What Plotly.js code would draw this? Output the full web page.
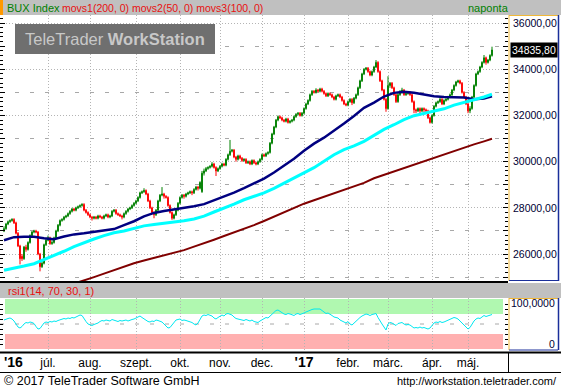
<!DOCTYPE html>
<html><head><meta charset="utf-8">
<script src="https://cdn.plot.ly/plotly-3.0.1.min.js"></script>
<style>html,body{margin:0;padding:0;background:#fff;}#chart{width:561px;height:390px;}</style>
</head><body><div id="chart"></div>
<script>
// ---------- DATA (BUX Index, daily, 2016-06-01 .. 2017-05-19) ----------
const startDate = '2016-06-01';
const holidays = ['2016-10-31','2016-11-01','2016-12-26','2017-03-15','2017-04-14','2017-04-17','2017-05-01'];

const open = [
27000,27100,27300,27400,27450,27500,27350,26900,26350,25900,
25800,26300,26200,26500,26800,26950,27000,26950,26000,25450,
25600,26400,26600,26700,26450,26500,26700,27000,27250,27450,
27500,27600,27650,27750,27850,27950,27900,28000,28050,28100,
28150,27900,27800,27700,27600,27550,27600,27550,27650,27600,
27550,27650,27700,27600,27650,27850,27900,27750,27700,27650,
27600,27750,27850,27950,28000,28100,28200,28300,28450,28650,
28700,28750,28600,28300,28000,27800,27700,27900,28300,28550,
28600,28500,28450,28100,27800,27550,27700,27900,28200,28450,
28550,28500,28600,28650,28700,28650,28800,28900,28850,28700,
29500,29600,29700,29750,29800,29900,29750,29600,29700,29800,
29900,29850,30100,30300,30450,30500,30200,30100,30250,30150,
30050,30100,29950,30000,29900,30050,29950,29900,30000,30100,
30300,30250,30350,30400,30800,31200,31500,31800,31950,31900,
31800,31750,31850,31700,31750,31800,31950,32050,32100,32000,
32100,32300,32500,32650,32900,33050,33000,33100,33050,33150,
33050,32950,32850,32950,32900,32800,32700,32850,32900,32800,
32650,32500,32450,32600,32700,32550,32750,32900,33200,33500,
33800,34000,34050,33900,33750,33900,34100,34300,33900,33500,
33100,32700,32300,33300,33400,33200,32900,32600,32900,33000,
33100,32900,32950,33000,32900,32600,32250,32200,32300,32200,
32300,32250,32200,31900,31700,32000,32400,32550,32600,32700,
32500,32650,32700,32800,32900,33100,33300,33450,33500,33400,
33000,32800,32500,32200,32300,32800,33300,33800,33900,34100,
34300,34500,34300,34400,34600];
const high = [
27200,27350,27450,27500,27550,27550,27400,26950,26400,26000,
26350,26400,26550,26850,27000,27050,27050,27000,26050,25700,
26450,26650,26800,26750,26600,26750,27050,27300,27500,27550,
27650,27700,27800,27900,28000,28000,28050,28100,28150,28200,
28200,27950,27850,27750,27650,27650,27650,27700,27700,27650,
27700,27750,27750,27700,27900,27950,27950,27800,27750,27700,
27800,27900,28000,28050,28150,28250,28350,28500,28700,28750,
28850,28800,28650,28350,28050,27850,27950,28350,28600,28900,
28650,28550,28500,28150,27850,27750,27950,28250,28500,28600,
28600,28650,28700,28750,28750,28850,28950,28950,29150,29600,
29700,29770,29800,29850,29980,29950,29800,29750,29850,29950,
29950,30150,30350,30940,30550,30550,30250,30300,30300,30200,
30150,30150,30050,30050,30100,30100,30000,30050,30150,30350,
30350,30400,30450,30850,31250,31550,31850,32000,32000,31950,
31850,31900,31900,31800,31850,32000,32100,32150,32150,32150,
32350,32550,32700,32950,33100,33100,33180,33150,33200,33200,
33100,33000,33000,33000,32950,32850,32900,32950,32950,32850,
32700,32550,32650,32750,32750,32800,32950,33250,33550,33850,
34050,34100,34100,33950,33950,34150,34400,34350,33950,33550,
33150,32750,33700,33450,33450,33250,32950,33000,33100,33200,
33150,33000,33050,33050,32950,32650,32300,32350,32350,32350,
32350,32300,32250,31950,32050,32450,32600,32650,32800,32750,
32700,32750,32850,32950,33150,33350,33500,33550,33550,33450,
33050,32850,32550,32400,32850,33350,33850,33950,34150,34350,
34620,34550,34450,34650,34980];
const low = [
26950,27050,27250,27350,27400,27300,26850,26300,25550,25700,
25750,26100,26150,26450,26750,26900,26900,25950,25250,25400,
25550,26350,26550,26400,26400,26450,26650,26950,27200,27400,
27450,27550,27600,27700,27800,27850,27850,27950,28000,28050,
27850,27750,27650,27550,27450,27500,27500,27500,27550,27500,
27500,27600,27550,27550,27600,27800,27700,27650,27600,27500,
27550,27700,27800,27900,27950,28050,28150,28250,28400,28600,
28650,28550,28250,27950,27750,27550,27650,27850,28250,28500,
28400,28400,28050,27750,27480,27500,27650,27850,28150,28400,
28400,28450,28550,28600,28550,28600,28750,28750,28800,28650,
29400,29550,29650,29700,29750,29700,29380,29550,29650,29750,
29800,29800,30050,30250,30400,30150,30000,30050,30100,29990,
30000,29900,29900,29850,29850,29900,29840,29850,29950,30050,
30200,30200,30300,30350,30750,31150,31450,31750,31850,31750,
31700,31700,31650,31650,31700,31750,31900,32000,31950,31950,
32050,32250,32450,32600,32850,32950,32950,33000,33000,33000,
32900,32800,32800,32850,32750,32650,32650,32800,32750,32600,
32450,32400,32400,32550,32450,32500,32700,32850,33150,33450,
33750,33950,33850,33700,33700,33850,34050,33850,33450,33050,
32650,32160,32250,33200,33150,32850,32540,32550,32850,32950,
32850,32850,32900,32850,32550,32100,32100,32150,32050,32150,
32150,32150,31850,31650,31650,31950,32350,32500,32550,32450,
32450,32600,32650,32750,32850,33050,33250,33400,33350,32950,
32750,32450,32100,32100,32250,32750,33250,33750,33850,34050,
34250,34200,34250,34350,34550];
const close = [
27100,27300,27400,27450,27500,27350,26900,26350,25800,25800,
26300,26200,26500,26800,26950,27000,26950,26000,25450,25600,
26400,26600,26700,26450,26500,26700,27000,27250,27450,27500,
27600,27650,27750,27850,27950,27900,28000,28050,28100,28150,
27900,27800,27700,27600,27550,27600,27550,27650,27600,27550,
27650,27700,27600,27650,27850,27900,27750,27700,27650,27600,
27750,27850,27950,28000,28100,28200,28300,28450,28650,28700,
28750,28600,28300,28000,27800,27700,27900,28300,28550,28600,
28500,28450,28100,27800,27550,27700,27900,28200,28450,28550,
28500,28600,28650,28700,28650,28800,28900,28850,29100,29500,
29600,29700,29750,29800,29900,29750,29600,29700,29800,29900,
29850,30100,30300,30450,30500,30200,30100,30250,30150,30050,
30100,29950,30000,29900,30050,29950,29900,30000,30100,30300,
30250,30350,30400,30800,31200,31500,31800,31950,31900,31800,
31750,31850,31700,31750,31800,31950,32050,32100,32000,32100,
32300,32500,32650,32900,33050,33000,33100,33050,33150,33050,
32950,32850,32950,32900,32800,32700,32850,32900,32800,32650,
32500,32450,32600,32700,32550,32750,32900,33200,33500,33800,
34000,34050,33900,33750,33900,34100,34300,33900,33500,33100,
32700,32300,33300,33400,33200,32900,32600,32900,33000,33100,
32900,32950,33000,32900,32600,32250,32200,32300,32200,32300,
32250,32200,31900,31700,32000,32400,32550,32600,32700,32500,
32650,32700,32800,32900,33100,33300,33450,33500,33400,33000,
32800,32500,32200,32300,32800,33300,33800,33900,34100,34300,
34500,34300,34400,34600,34835.80];

// Moving averages, sampled every 5th trading day (+ last day)
const maStep = 5;
const movs1 = [null,null,null,null,null,null,null,
24720,24850,25000,25150,25300,25460,25600,25720,25830,25940,
26050,26170,26320,26460,26620,26780,26930,27080,27250,27430,
27620,27810,28010,28180,28330,28480,28630,28770,28920,29080,
29280,29430,29560,29700,29860,30000,30150,30300,30450,30600,
30750,30880,30990];
const movs2 = [26600,26730,26750,26750,26680,26640,26760,26850,26900,26960,
27010,27080,27250,27420,27630,27780,27860,27920,27980,28070,
28160,28320,28470,28660,28850,29050,29270,29530,29830,30130,
30470,30780,31040,31330,31650,31980,32330,32560,32820,32980,
33030,32980,32900,32830,32800,32800,32780,32700,32740,32830];
const movs3 = [25300,25380,25480,25580,25750,25930,26120,26320,26500,26650,
26800,26920,27000,27100,27220,27280,27330,27380,27440,27520,
27640,27820,27980,28160,28350,28500,28650,28840,29060,29300,
29520,29740,30020,30300,30520,30680,30880,31130,31400,31600,
31820,31990,32100,32180,32290,32450,32580,32680,32800,32920];

// RSI(14), daily
const rsi = [
58,60,61,62,60,56,50,44,42,45, 50,53,52,54,53,51,45,40,41,47,
52,54,53,55,54,56,55,57,58,60, 61,60,62,61,63,62,64,66,68,67,
60,55,50,48,47,49,50,52,55,57, 56,58,57,56,59,58,56,55,57,56,
57,58,56,58,59,60,62,64,66,63, 60,57,55,54,56,55,58,57,55,54,
50,45,42,43,48,55,58,59,60,57, 58,57,56,55,53,50,48,52,60,66,
68,67,69,68,66,62,60,63,66,68, 66,70,71,70,68,64,61,60,59,58,
57,59,58,56,58,55,54,53,56,58, 61,63,62,66,70,74,77,78,75,72,
70,69,71,70,68,67,70,71,69,70, 72,74,76,78,79,80,80,79,80,77,
73,71,72,70,67,64,63,62,58,56, 54,52,55,50,48,52,57,61,63,66,
68,70,69,67,69,70,71,63,55,50, 44,38,50,53,52,49,47,51,52,53,
50,48,49,48,45,42,43,42,44,42, 43,41,40,42,47,52,54,53,55,53,
54,56,57,60,62,63,62,60,56,52, 50,44,40,43,50,56,60,62,61,64,
67,65,66,68,69];

const monthKeys = ['2016-07','2016-08','2016-09','2016-10','2016-11','2016-12','2017-01','2017-02','2017-03','2017-04','2017-05'];
const monthLabels = ['júl.','aug.','szept.','okt.','nov.','dec.',"<b><span style='font-size:14px'>'17</span></b>",'febr.','márc.','ápr.','máj.'];
const firstYearLabel = "'16";
const yLabelStep = 2000;
const rsiBands = {upper: 70, lower: 30, mid: 50};

// ---------- BUILD ----------
function tradingDays(start, n) {
  const out = []; const d = new Date(start + 'T00:00:00Z');
  while (out.length < n) {
    const s = d.toISOString().slice(0, 10), w = d.getUTCDay();
    if (w !== 0 && w !== 6 && holidays.indexOf(s) < 0) out.push(s);
    d.setUTCDate(d.getUTCDate() + 1);
  }
  return out;
}
const N = close.length;
const dates = tradingDays(startDate, N);
const monthStarts = monthKeys.map(k => dates.find(d => d.startsWith(k)));
const maX = movs2.map((_, k) => k < movs2.length - 1 ? dates[k * maStep] : dates[N - 1]);

// pixel helpers: plot area is x 0..508, y 15..350
const PW = 508, PT = 15, PB = 350, PH = PB - PT;
const X = px => px / PW;
const Y = py => (PB - py) / PH;

const GREEN = '#008000', RED = '#ff0000';
const traces = [
  {type: 'candlestick', x: dates, open: open, high: high, low: low, close: close, xaxis: 'x', yaxis: 'y',
   increasing: {line: {color: GREEN, width: 1}, fillcolor: GREEN},
   decreasing: {line: {color: RED, width: 1}, fillcolor: RED}, whiskerwidth: 0, hoverinfo: 'skip'},
  {type: 'scatter', mode: 'lines', x: maX, y: movs1, xaxis: 'x', yaxis: 'y', line: {color: '#800000', width: 2}, hoverinfo: 'skip', connectgaps: false},
  {type: 'scatter', mode: 'lines', x: maX, y: movs2, xaxis: 'x', yaxis: 'y', line: {color: '#000080', width: 2.5}, hoverinfo: 'skip'},
  {type: 'scatter', mode: 'lines', x: maX, y: movs3, xaxis: 'x', yaxis: 'y', line: {color: '#00ffff', width: 3}, hoverinfo: 'skip'},
  {type: 'scatter', mode: 'lines', x: [], y: [], xaxis: 'x', yaxis: 'y3', hoverinfo: 'skip'},
  {type: 'scatter', mode: 'lines', x: dates, y: rsi, xaxis: 'x2', yaxis: 'y2', line: {color: '#00e8f0', width: 1}, hoverinfo: 'skip'}
];

const gridCol = '#b4b4b4';
const mainRange = [24832, 36352];
const mainDom = [Y(281), 1];
const rsiDom = [0, Y(298)];

const shapes = [];
function line(x0, y0, x1, y1, color, w, dash) {
  shapes.push({type: 'line', xref: 'paper', yref: 'paper', x0: X(x0), y0: Y(y0), x1: X(x1), y1: Y(y1),
    line: {color: color, width: w, dash: dash || 'solid'}, layer: 'above'});
}
function rect(x0, y0, x1, y1, fill, layer) {
  shapes.push({type: 'rect', xref: 'paper', yref: 'paper', x0: X(x0), y0: Y(y0), x1: X(x1), y1: Y(y1),
    fillcolor: fill, line: {width: 0}, layer: layer || 'above'});
}
rect(0, 0, 561, 15, '#c0c0c0');
rect(0, 0, 3, 15, '#ff9900');
rect(0, 283, 561, 298, '#c0c0c0');
line(0, 282, 508, 282, '#000', 2);
line(0, 352.5, 561, 352.5, '#000', 2);
line(509, 15, 509, 281, '#f0b838', 1);
line(509, 15.5, 558, 15.5, '#f0b838', 1);
line(558.5, 15, 558.5, 281, '#1a2f9a', 1.5);
line(509, 280.5, 558, 280.5, '#1a2f9a', 1);
line(509, 298, 509, 350, '#f0b838', 1);
line(509, 298.5, 558, 298.5, '#f0b838', 1);
line(558.5, 298, 558.5, 350, '#1a2f9a', 1.5);
line(509, 350, 558, 350, '#1a2f9a', 1);
line(508.5, 353, 508.5, 372, '#000', 1);
line(0, 372.5, 561, 372.5, '#000', 1);
rect(15, 24, 215, 54, '#6f6f6f');
shapes.push({type: 'rect', xref: 'paper', yref: 'y2', x0: X(5), x1: X(503), y0: rsiBands.upper, y1: 100, fillcolor: '#b0f8b0', line: {width: 0}, layer: 'below'});
shapes.push({type: 'rect', xref: 'paper', yref: 'y2', x0: X(5), x1: X(503), y0: 0, y1: rsiBands.lower, fillcolor: '#ffb0b0', line: {width: 0}, layer: 'below'});
shapes.push({type: 'line', xref: 'paper', yref: 'y2', x0: 0, x1: 1, y0: rsiBands.mid, y1: rsiBands.mid, line: {color: '#a8a8a8', width: 1, dash: '4px,11px'}, layer: 'below'});

const ann = [];
const FF = 'Liberation Sans, Arial, sans-serif';
function text(px, py, t, opt) {
  ann.push(Object.assign({xref: 'paper', yref: 'paper', x: X(px), y: Y(py), text: t, showarrow: false,
    xanchor: 'left', yanchor: 'middle', font: {family: FF, size: 11, color: '#000'}}, opt || {}));
}
text(5, 7.5, 'BUX Index', {font: {family: FF, size: 11, color: '#008000'}});
text(60, 7.5, 'movs1(200, 0) movs2(50, 0) movs3(100, 0)', {font: {family: FF, size: 10.5, color: '#e81010'}});
text(466, 7.5, 'naponta', {font: {family: FF, size: 11, color: '#008000'}});
text(115, 39, 'TeleTrader <b>WorkStation</b>', {xanchor: 'center', font: {family: FF, size: 16.5, color: '#c8c8c8'}});
text(6, 290.5, 'rsi1(14, 70, 30, 1)', {font: {family: FF, size: 11, color: '#e81010'}});
text(557, 303, '100,0000', {xanchor: 'right', font: {family: FF, size: 10.5, color: '#000033'}});
text(557, 344, '0', {xanchor: 'right', font: {family: FF, size: 10.5, color: '#000033'}});
text(2, 362, '<b>' + firstYearLabel + '</b>', {font: {family: FF, size: 14, color: '#000'}});
text(2, 381, '© 2017 TeleTrader Software GmbH', {font: {family: FF, size: 12.5, color: '#000'}});
text(559, 381, 'http://workstation.teletrader.com/', {xanchor: 'right', font: {family: FF, size: 11, color: '#000'}});
ann.push({xref: 'paper', yref: 'y', x: X(510), y: close[N - 1], xanchor: 'left', yanchor: 'middle',
  text: close[N - 1].toFixed(2).replace('.', ','), showarrow: false, bgcolor: '#000', borderpad: 1,
  font: {family: FF, size: 10.5, color: '#fff'}});

const layout = {
  width: 561, height: 390, margin: {l: 0, r: 53, t: PT, b: 390 - PB, pad: 0},
  paper_bgcolor: '#fff', plot_bgcolor: '#fff', showlegend: false, separators: ', ', boxgap: 0.4,
  font: {family: FF, size: 11, color: '#000'},
  xaxis: {type: 'category', categoryorder: 'array', categoryarray: dates, domain: [0, 1], anchor: 'y', range: [-2, 252], tickvals: monthStarts,
    showticklabels: false, ticks: '', showgrid: true, gridcolor: gridCol, griddash: '1px,2px', gridwidth: 1,
    zeroline: false, showline: false, rangeslider: {visible: false}, fixedrange: true},
  xaxis2: {type: 'category', categoryorder: 'array', categoryarray: dates, matches: 'x', domain: [0, 1], anchor: 'y2', tickvals: monthStarts, ticktext: monthLabels,
    ticks: '', showgrid: true, gridcolor: gridCol, griddash: '1px,2px', gridwidth: 1, zeroline: false, showline: false,
    tickfont: {family: FF, size: 12, color: '#000'}, ticklabelstandoff: 4},
  yaxis: {domain: mainDom, anchor: 'x', side: 'right', range: mainRange, tickmode: 'linear', tick0: 0, dtick: yLabelStep,
    tickformat: '.2f', ticks: 'inside', ticklen: 5, tickcolor: '#000', tickwidth: 1, mirror: 'ticks',
    showgrid: true, gridcolor: gridCol, griddash: '1px,2px', zeroline: false, showline: false,
    tickfont: {family: FF, size: 10.5, color: '#000033'}, ticklabelstandoff: 4,
    minor: {tickmode: 'linear', tick0: 0, dtick: yLabelStep / 2, ticks: 'inside', ticklen: 5, tickcolor: '#000',
      showgrid: true, gridcolor: '#a8a8a8', griddash: '4px,11px'}},
  yaxis3: {overlaying: 'y', anchor: 'x', side: 'right', range: mainRange, tickmode: 'linear', tick0: 0, dtick: 200,
    ticks: 'inside', ticklen: 3, tickcolor: '#000', mirror: 'ticks', showticklabels: false, showgrid: false, zeroline: false, showline: false},
  yaxis2: {domain: rsiDom, anchor: 'x2', side: 'right', range: [-2, 102], tickmode: 'array', tickvals: [0, 100],
    showticklabels: false, ticks: 'inside', ticklen: 4, tickcolor: '#000', mirror: 'ticks',
    showgrid: true, gridcolor: gridCol, griddash: '1px,2px', zeroline: false, showline: false,
    minor: {tickmode: 'linear', tick0: 0, dtick: 10, ticks: 'inside', ticklen: 3, tickcolor: '#000'}},
  shapes: shapes, annotations: ann
};
Plotly.newPlot('chart', traces, layout, {staticPlot: true, displayModeBar: false});
</script></body></html>
